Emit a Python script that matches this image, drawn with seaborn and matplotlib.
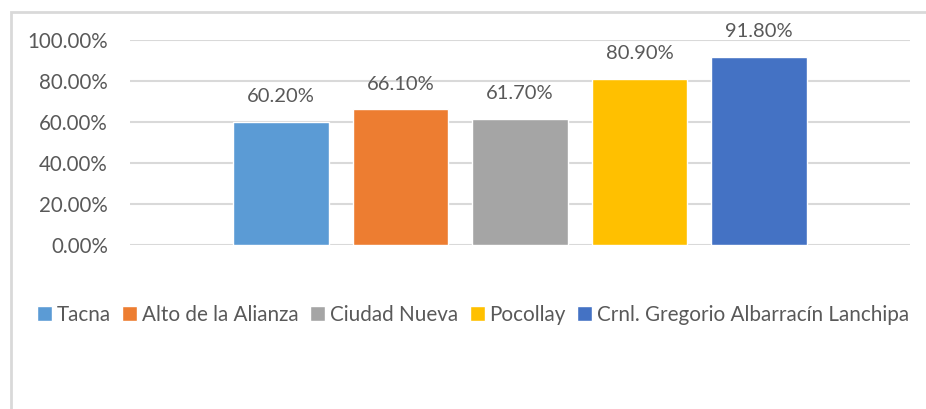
import pandas as pd
import matplotlib.pyplot as plt
import matplotlib.patches as mpatches
import seaborn as sns

# datos del grafico
distritos = ['Tacna', 'Alto de la Alianza', 'Ciudad Nueva', 'Pocollay',
             'Crnl. Gregorio Albarracín Lanchipa']
valores = [60.2, 66.1, 61.7, 80.9, 91.8]
colores = ['#5B9BD5', '#ED7D31', '#A5A5A5', '#FFC000', '#4472C4']
yticks = [0, 20, 40, 60, 80, 100]

df = pd.DataFrame({'grupo': [''] * len(distritos), 'distrito': distritos, 'valor': valores})

sns.set_style('white')
plt.rcParams['font.family'] = ['Lato', 'DejaVu Sans']
gris = '#595959'

fig = plt.figure(figsize=(9.26, 4.09), dpi=100)
ax = fig.add_axes([130 / 926, 1 - 245 / 409, 780 / 926, 205 / 409])

sns.barplot(data=df, x='grupo', y='valor', hue='distrito', hue_order=distritos,
            palette=colores, width=0.766, gap=0.2, saturation=1, ax=ax)

# etiquetas de datos
for cont in ax.containers:
    ax.bar_label(cont, fmt='%.2f%%', padding=12, fontsize=14.5, color=gris)

ax.set_xlim(-0.5, 0.5)
ax.set_ylim(0, 100)
ax.set_yticks(yticks)
ax.set_yticklabels([f'{t:.2f}%' for t in yticks])
ax.set_xticks([])
ax.set_xlabel('')
ax.set_ylabel('')
ax.tick_params(axis='y', length=0, pad=16, labelsize=14.8, labelcolor=gris)
for s in ax.spines.values():
    s.set_visible(False)
ax.set_axisbelow(True)
ax.yaxis.grid(True, color='#D9D9D9', linewidth=1.5)

# leyenda abajo
handles, labels = ax.get_legend_handles_labels()
ax.legend_.remove()
fig.legend(handles, labels, loc='center left', bbox_to_anchor=(37 / 926, 1 - 315 / 409),
           ncol=5, frameon=False, fontsize=14.9, labelcolor=gris, borderpad=0,
           borderaxespad=0, handlelength=0.72, handleheight=0.72, handletextpad=0.24,
           columnspacing=0.55)

# marco del grafico
fig.patches.append(mpatches.Rectangle((11 / 926, -0.1), 1.2, 1 - 12 / 409 + 0.1,
                                      transform=fig.transFigure, fill=False,
                                      edgecolor='#D9D9D9', linewidth=2))

fig.savefig('out.png', dpi=100)
